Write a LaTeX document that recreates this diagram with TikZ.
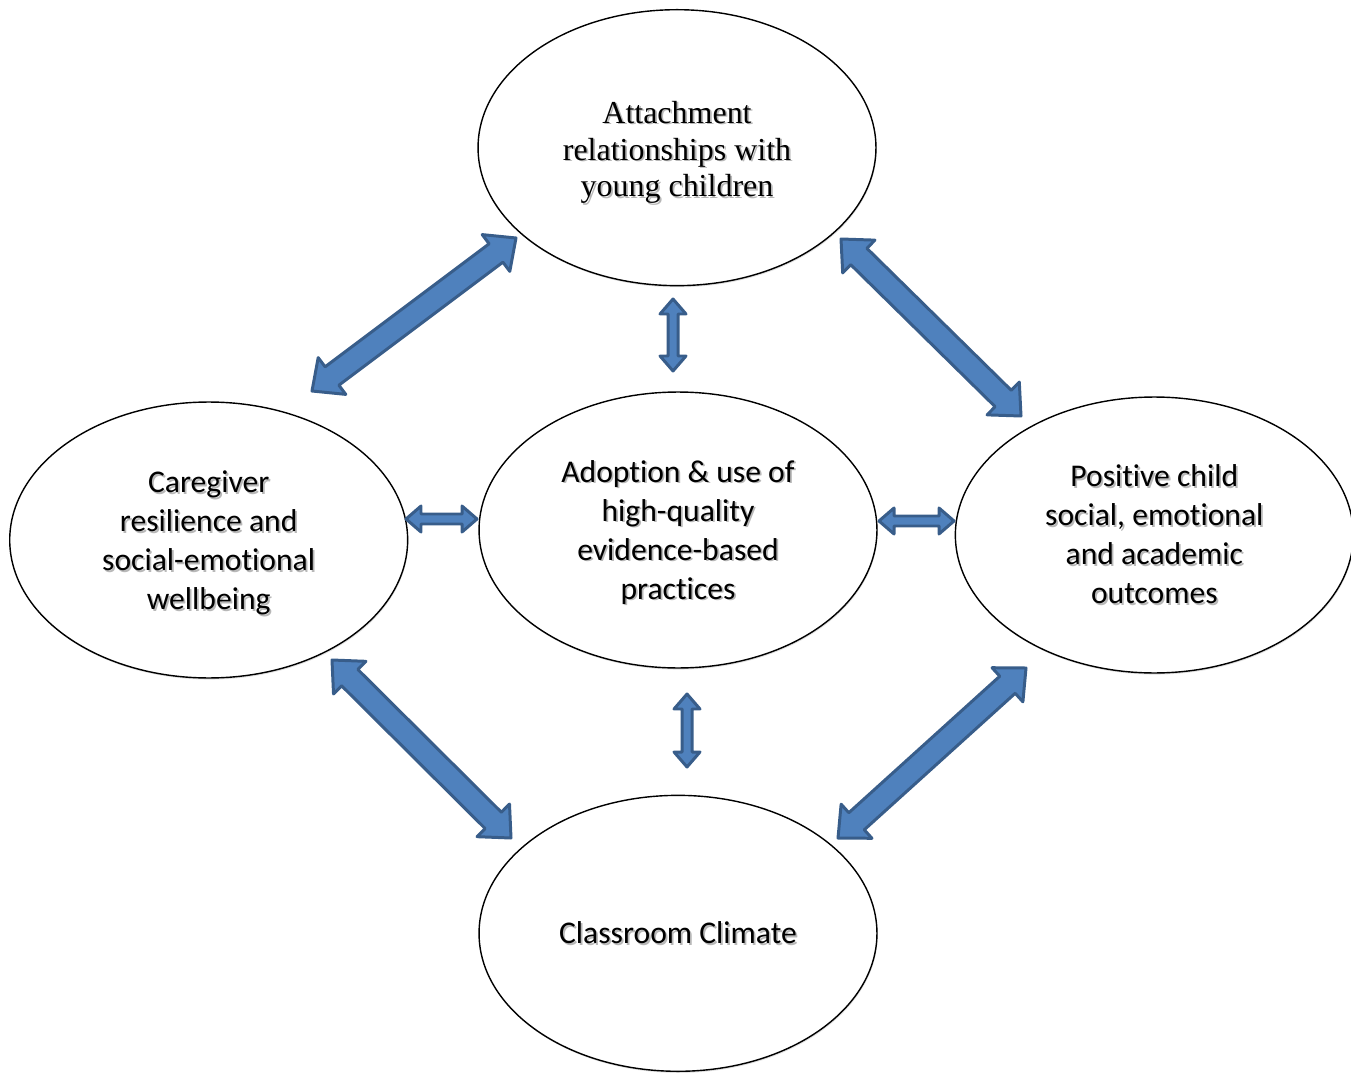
\documentclass[tikz,border=0pt]{standalone}
\usepackage{fontspec}
\setmainfont{Carlito}[Ligatures={TeX,NoCommon,NoContextual}, RawFeature={-liga;-clig;-dlig}]
\newfontfamily\serifface{Liberation Serif}
\usetikzlibrary{shapes.geometric,positioning,calc,shadows}

\definecolor{arrowfill}{HTML}{4F81BD}
\definecolor{arrowline}{HTML}{385D8A}

% text with a soft shadow
\newcommand{\sh}[1]{\makebox[0pt][l]{\hspace{1pt}\raisebox{-1pt}{\textcolor{black!28}{#1}}}#1}
% extra room above the first line
\newcommand{\topgap}[1]{\rule{0pt}{#1}}

% block double arrow: from, to, head length, head half width, shaft half width
\newcommand{\dblarrow}[5]{%
  \coordinate (ha) at ($(#1)!#3!(#2)$);
  \coordinate (hb) at ($(#2)!#3!(#1)$);
  \draw[blockarrow] (#1) -- ($(ha)!#4!90:(#2)$) -- ($(ha)!#5!90:(#2)$)
    -- ($(hb)!#5!-90:(#1)$) -- ($(hb)!#4!-90:(#1)$) -- (#2)
    -- ($(hb)!#4!90:(#1)$) -- ($(hb)!#5!90:(#1)$)
    -- ($(ha)!#5!-90:(#2)$) -- ($(ha)!#4!-90:(#2)$) -- cycle;
}

\begin{document}
\begin{tikzpicture}[
        x=0.02cm, y=-0.02cm,
        bubble/.style={ellipse, draw, line width=0.8pt, fill=white, align=center,
            minimum width=7.96cm, minimum height=5.52cm, inner sep=1pt,
            font=\fontsize{18}{22.2}\selectfont,
            drop shadow={shadow xshift=0.4pt, shadow yshift=-0.9pt, opacity=0.25}},
        blockarrow/.style={draw=arrowline, fill=arrowfill, line width=1.7pt, line join=round}
    ]

    \useasboundingbox (0,0) rectangle (1351,1074);

    % Nodes
    \node (adopt) [bubble] at (678,530) {\topgap{16pt}\sh{Adoption \& use of}\\
        \sh{high-quality}\\
        \sh{evidence-based}\\
        \sh{practices}};

    \node (attach) [bubble, above=2.1cm of adopt, xshift=-0.02cm,
        font=\serifface\fontsize{18.2}{21}\selectfont] {\topgap{19pt}\sh{Attachment}\\
        \sh{relationships with}\\
        \sh{young children}};

    \node (care) [bubble, left=1.4cm of adopt, yshift=-0.2cm] {\topgap{16.5pt}\sh{Caregiver}\\
        \sh{resilience and}\\
        \sh{social-emotional}\\
        \sh{wellbeing}};

    \node (outcome) [bubble, right=1.54cm of adopt, yshift=-0.1cm] {\sh{Positive child}\\
        \sh{social, emotional}\\
        \sh{and academic}\\
        \sh{outcomes}};

    \node (climate) [bubble, below=2.52cm of adopt] {\sh{Classroom Climate}};

    % Arrow ends
    \coordinate (ac1) at (516,238);  \coordinate (ac2) at (312,391);
    \coordinate (ao1) at (841,239);  \coordinate (ao2) at (1021,416);
    \coordinate (cc1) at (332,660);  \coordinate (cc2) at (511,838);
    \coordinate (oc1) at (1026,668); \coordinate (oc2) at (838,838);
    \coordinate (aa1) at (673,299);  \coordinate (aa2) at (673,371);
    \coordinate (ad1) at (687,694);  \coordinate (ad2) at (687,767);
    \coordinate (ca1) at (406,519);  \coordinate (ca2) at (477,519);
    \coordinate (ao3) at (879,521);  \coordinate (ao4) at (954,521);

    % Edges
    \foreach \a/\b in {ac1/ac2, ao1/ao2, cc1/cc2, oc1/oc2}
        {\dblarrow{\a}{\b}{0.5cm}{0.46cm}{0.23cm}}
    \foreach \a/\b in {aa1/aa2, ad1/ad2, ca1/ca2, ao3/ao4}
        {\dblarrow{\a}{\b}{0.3cm}{0.26cm}{0.1cm}}

\end{tikzpicture}
\end{document}
